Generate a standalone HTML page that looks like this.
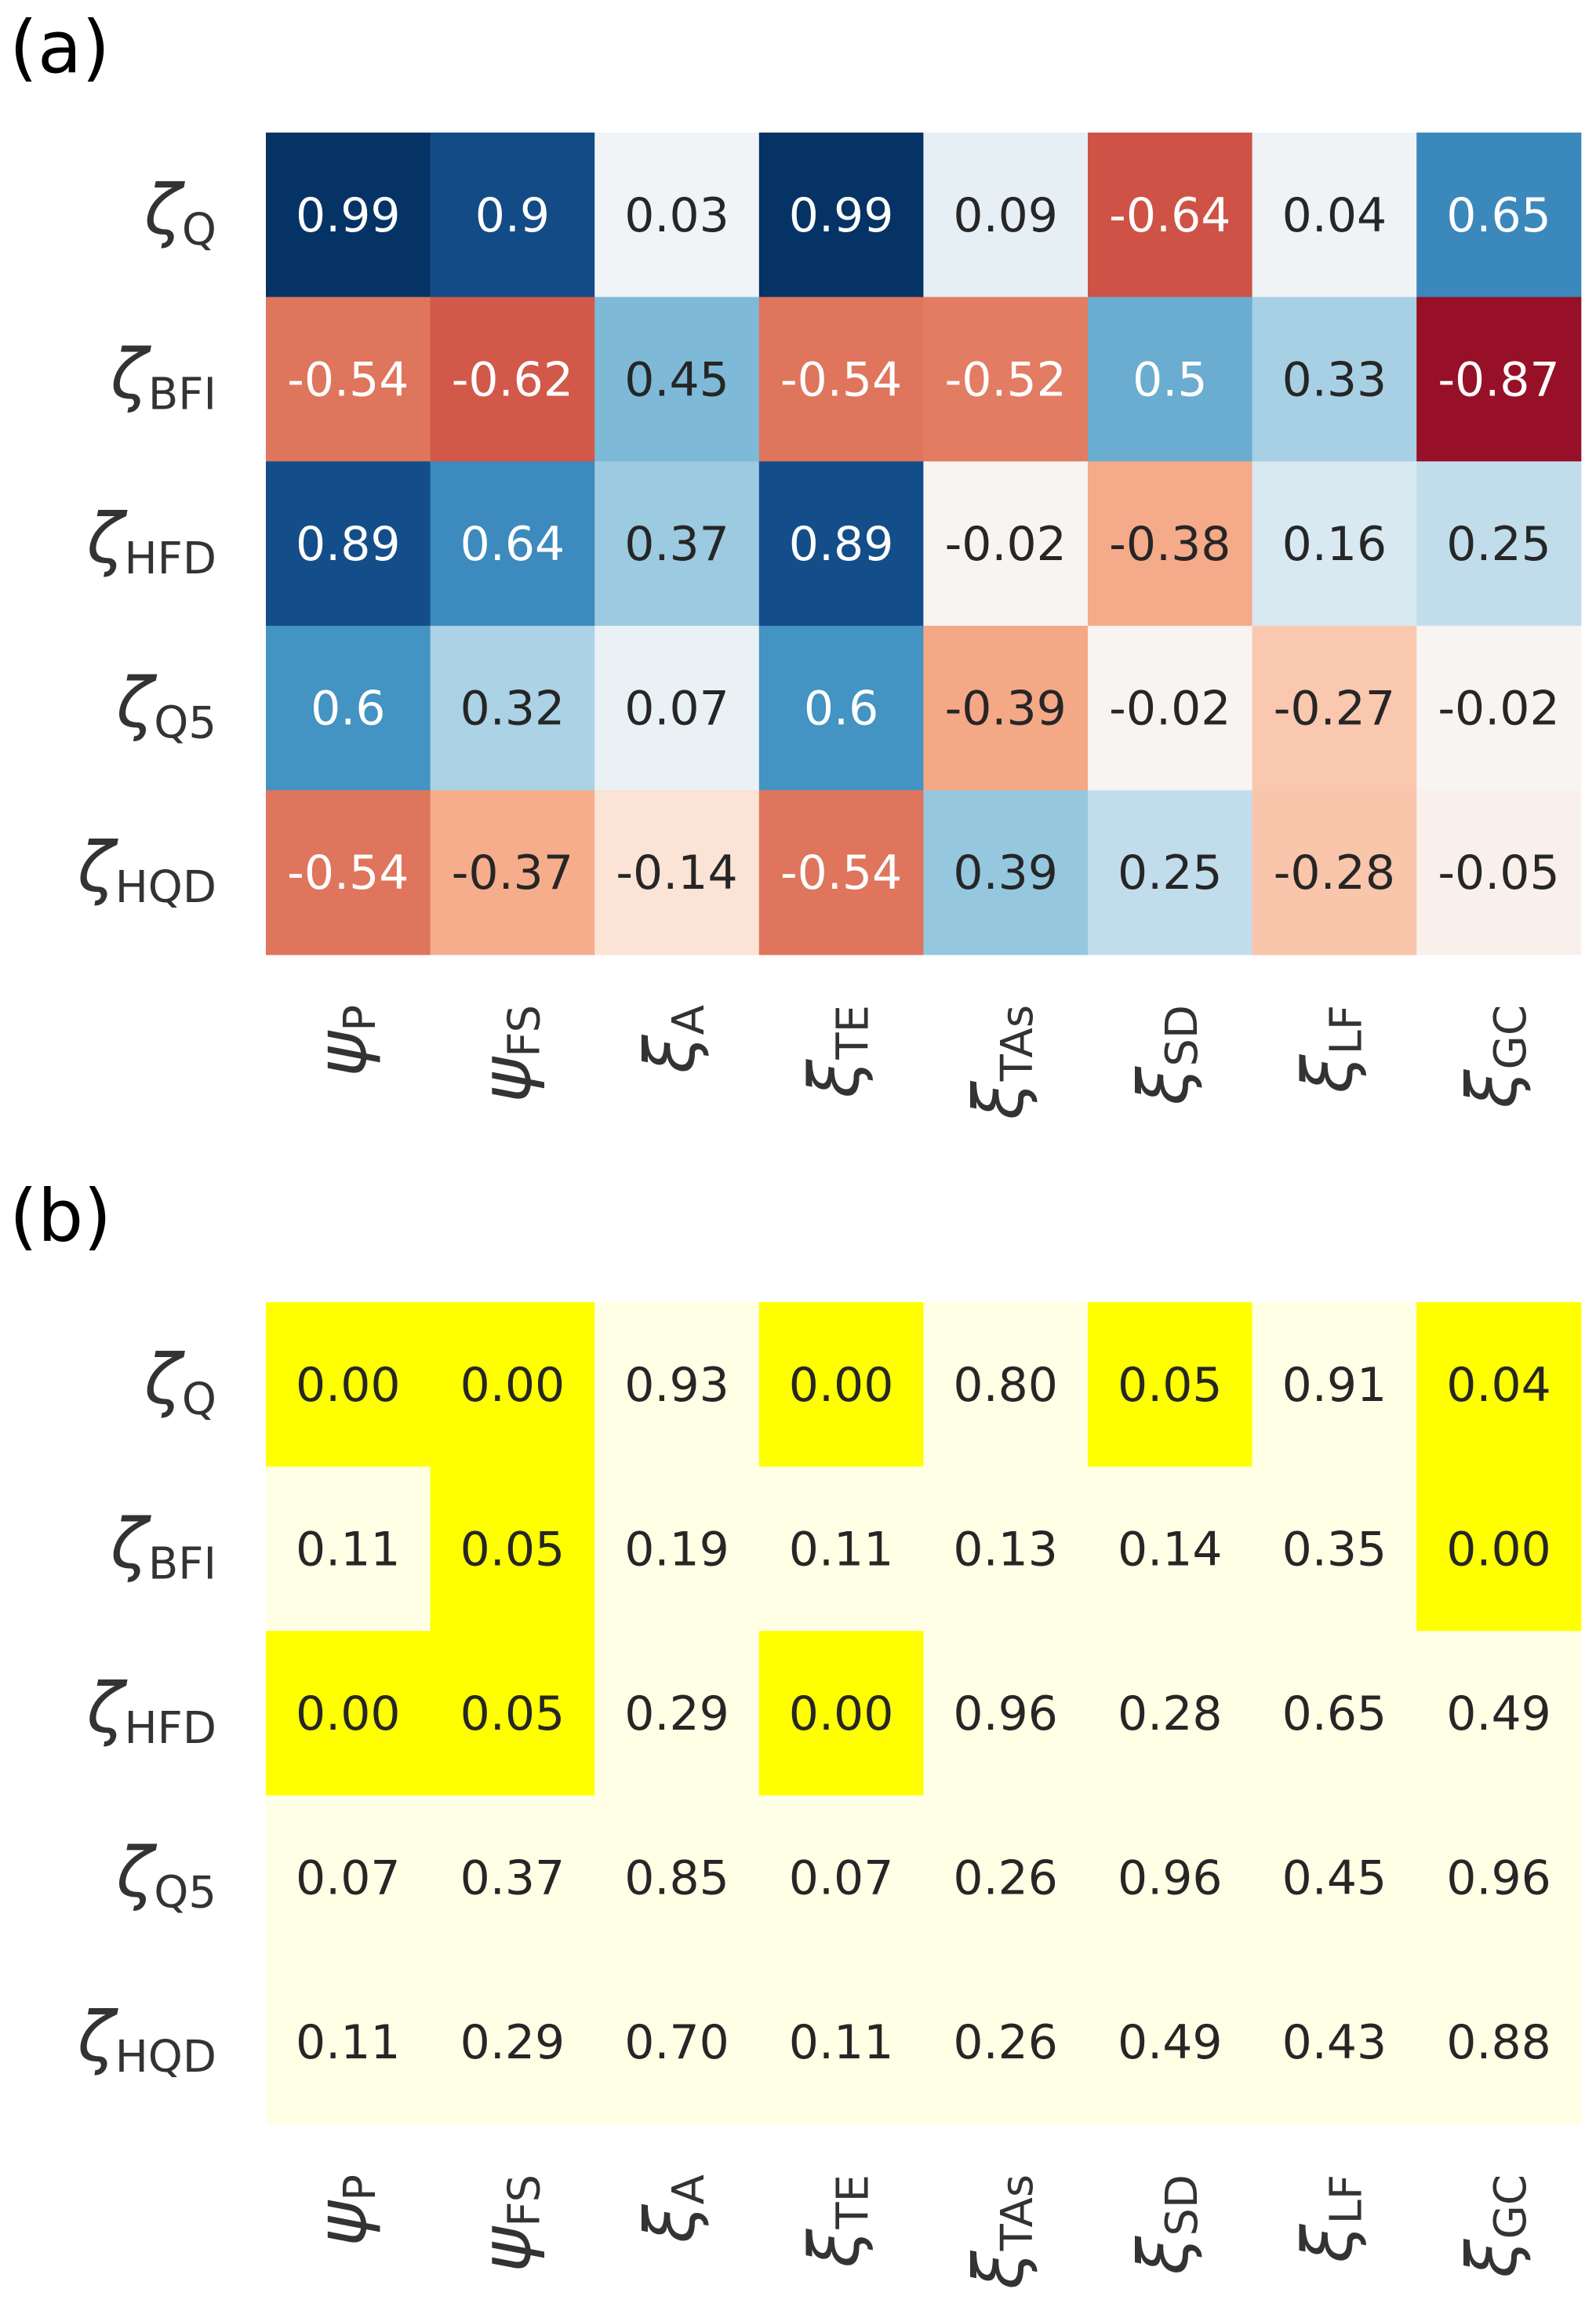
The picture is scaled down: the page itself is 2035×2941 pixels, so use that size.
<!DOCTYPE html>
<html><head><meta charset="utf-8"><style>
html,body{margin:0;padding:0;background:#fff;}
svg{display:block;}
text{font-family:"DejaVu Sans","Liberation Sans",sans-serif;}
</style></head><body>
<svg id="fig" width="2035" height="2941" viewBox="0 0 2035 2941" xmlns="http://www.w3.org/2000/svg">
<text x="12" y="92" font-size="92" fill="#000" font-family="Liberation Sans, sans-serif">(a)</text>
<text x="12" y="1582" font-size="92" fill="#000" font-family="Liberation Sans, sans-serif">(b)</text>
<g id="ga"></g>
<g id="gb"></g>
</svg>
<script>
const rowSym = ['ζ','ζ','ζ','ζ','ζ'];
const rowSub = ['Q','BFI','HFD','Q5','HQD'];
const colSym = ['ψ','ψ','ξ','ξ','ξ','ξ','ξ','ξ'];
const colSub = ['P','FS','A','TE','TAs','SD','LF','GC'];
const corrValues = [
 [0.99,0.9,0.03,0.99,0.09,-0.64,0.04,0.65],
 [-0.54,-0.62,0.45,-0.54,-0.52,0.5,0.33,-0.87],
 [0.89,0.64,0.37,0.89,-0.02,-0.38,0.16,0.25],
 [0.6,0.32,0.07,0.6,-0.39,-0.02,-0.27,-0.02],
 [-0.54,-0.37,-0.14,-0.54,0.39,0.25,-0.28,-0.05]
];
const pValues = [
 [0.00,0.00,0.93,0.00,0.80,0.05,0.91,0.04],
 [0.11,0.05,0.19,0.11,0.13,0.14,0.35,0.00],
 [0.00,0.05,0.29,0.00,0.96,0.28,0.65,0.49],
 [0.07,0.37,0.85,0.07,0.26,0.96,0.45,0.96],
 [0.11,0.29,0.70,0.11,0.26,0.49,0.43,0.88]
];
const NS='http://www.w3.org/2000/svg';
const X0=339, CW=209.6, CH=209.6;
const stops=['#053061','#2166ac','#4393c3','#92c5de','#d1e5f0','#f7f7f7','#fddbc7','#f4a582','#d6604d','#b2182b','#67001f'];
function hex(h){return [1,3,5].map(i=>parseInt(h.substr(i,2),16));}
function rdbu(v){v=-v;let t=(Math.max(-1,Math.min(1,v))+1)/2*10;let i=Math.min(9,Math.floor(t));let f=t-i;
 const a=hex(stops[i]),b=hex(stops[i+1]);return 'rgb('+a.map((c,k)=>Math.round(c+(b[k]-c)*f)).join(',')+')';}
function xCenter(j){return X0+CW*(j+0.5);}
function yTop(y0,i){return y0+CH*i;}
function mk(tag,attrs,parent){const e=document.createElementNS(NS,tag);for(const k in attrs)e.setAttribute(k,attrs[k]);parent.appendChild(e);return e;}
function draw(g,Y0,vals,colorFn,txtColFn,fmt,prefix){
 vals.forEach((row,i)=>row.forEach((v,j)=>{
  const r=mk('rect',{x:X0+CW*j,y:yTop(Y0,i),width:CW+0.5,height:CH+0.5,fill:colorFn(v)},g);
  
  
  const t=mk('text',{x:xCenter(j),y:yTop(Y0,i)+CH/2+21,'font-size':60,'text-anchor':'middle',fill:txtColFn(v)},g);
  t.textContent=fmt(v);
  
  
 }));
 rowSub.forEach((s,i)=>{
  const t=mk('text',{x:276,y:yTop(Y0,i)+CH/2+24,'font-size':88,'text-anchor':'end',fill:'#333'},g);
  const a=mk('tspan',{'font-style':'italic'},t);a.textContent=rowSym[i];
  const b=mk('tspan',{'font-size':56,dy:14},t);b.textContent=s;
  
  
 });
 const ly=Y0+CH*5+64;
 colSub.forEach((s,j)=>{
  const t=mk('text',{x:0,y:0,'font-size':88,'text-anchor':'end',fill:'#333',transform:'translate('+(xCenter(j)+22)+','+ly+') rotate(-90)'},g);
  const a=mk('tspan',{'font-style':'italic'},t);a.textContent=colSym[j];
  const b=mk('tspan',{'font-size':56,dy:12},t);b.textContent=s;
  
  
 });
}
draw(document.getElementById('ga'),169,corrValues,rdbu,v=>Math.abs(v)>=0.5?'#ffffff':'#262626',v=>String(v),'corr');
draw(document.getElementById('gb'),1660,pValues,v=>v<=0.05?'#ffff00':'#ffffe5',v=>'#262626',v=>v.toFixed(2),'p');
</script>
</body></html>
